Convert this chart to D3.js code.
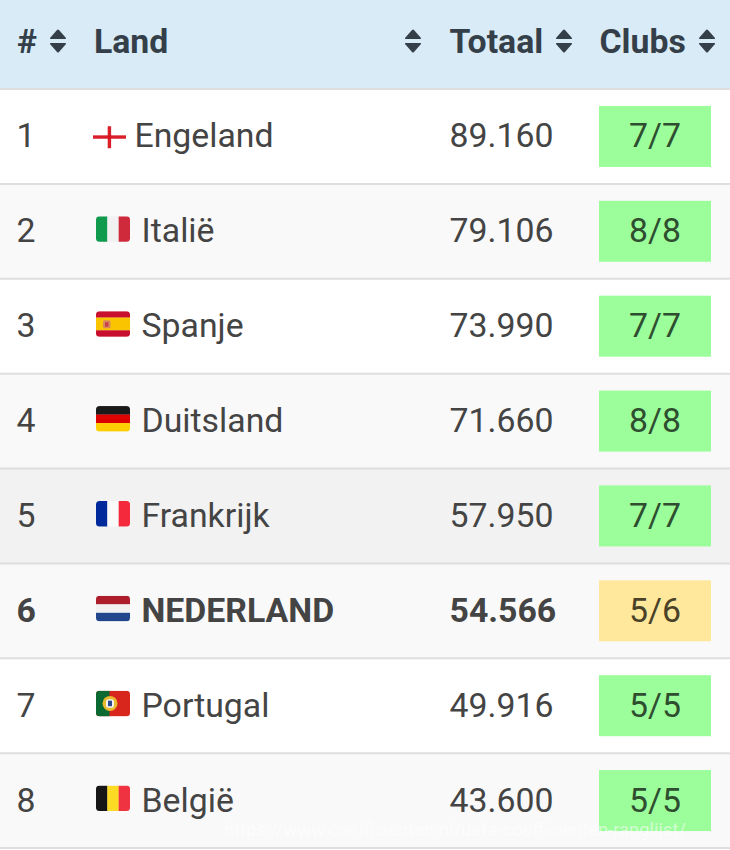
<!DOCTYPE html>
<html>
<head>
<meta charset="utf-8">
<script src="https://cdn.jsdelivr.net/npm/d3@7"></script>
<style>
  html, body { margin: 0; padding: 0; background: #fff; overflow: hidden; }
  svg { display: block; }
  text { font-family: Roboto, sans-serif; }
</style>
</head>
<body>
<svg></svg>
<script>
var width = 730;
var height = 850;

var columns = ["#", "Land", "Totaal", "Clubs"];
var ranks = [1, 2, 3, 4, 5, 6, 7, 8];
var countries = ["Engeland", "Italië", "Spanje", "Duitsland", "Frankrijk", "NEDERLAND", "Portugal", "België"];
var totals = ["89.160", "79.106", "73.990", "71.660", "57.950", "54.566", "49.916", "43.600"];
var clubs = ["7/7", "8/8", "7/7", "8/8", "7/7", "5/6", "5/5", "5/5"];
var flags = ["eng", "it", "es", "de", "fr", "nl", "pt", "be"];
var highlighted = "NEDERLAND";

var rowBg = ["#ffffff", "#f9f9f9", "#ffffff", "#f9f9f9", "#f2f2f2", "#f9f9f9", "#ffffff", "#f9f9f9"];

var textColor = "#444444";
var headColor = "#343f49";
var fontSize = 33.8;
var baseShift = 11;

var svg = d3.select("svg")
  .attr("width", width)
  .attr("height", height);

var y = d3.scaleBand()
  .domain(ranks)
  .range([89, 848]);

svg.append("rect")
  .attr("width", width)
  .attr("height", 89)
  .attr("fill", "#d9ebf6");

var rows = svg.selectAll("g.row")
  .data(ranks)
  .enter()
  .append("g")
    .attr("class", "row")
    .attr("transform", d => `translate(0,${y(d)})`);

rows.append("rect")
  .attr("width", width)
  .attr("height", y.bandwidth())
  .attr("fill", (d, i) => rowBg[i]);

svg.selectAll("line.sep")
  .data([0].concat(ranks))
  .enter()
  .append("line")
    .attr("class", "sep")
    .attr("x1", 0)
    .attr("x2", width)
    .attr("y1", d => d === 0 ? 89 : y(d) + y.bandwidth())
    .attr("y2", d => d === 0 ? 89 : y(d) + y.bandwidth())
    .attr("stroke", "#dedede")
    .attr("stroke-width", 2);

// header
var headX = [17, 94, 449.5, 599.5];
svg.selectAll("text.head")
  .data(columns)
  .enter()
  .append("text")
    .attr("class", "head")
    .attr("x", (d, i) => headX[i])
    .attr("y", 52.5)
    .attr("font-size", fontSize)
    .attr("font-weight", 700)
    .attr("fill", headColor)
    .text(d => d);

var sortX = [58, 413, 564, 707];
var sorters = svg.selectAll("g.sort")
  .data(sortX)
  .enter()
  .append("g")
    .attr("class", "sort")
    .attr("transform", d => `translate(${d},41)`)
    .attr("fill", headColor);
sorters.append("path").attr("d", "M-8,-3 L-1,-11 Q0,-12 1,-11 L8,-3 Q8.5,-2 7,-2 L-7,-2 Q-8.5,-2 -8,-3 Z");
sorters.append("path").attr("d", "M-8,3 L-1,11 Q0,12 1,11 L8,3 Q8.5,2 7,2 L-7,2 Q-8.5,2 -8,3 Z");

// cells
var isBold = i => countries[i] === highlighted;

rows.append("text")
  .attr("x", 16.5)
  .attr("y", y.bandwidth() / 2 + baseShift)
  .attr("font-size", fontSize)
  .attr("font-weight", (d, i) => isBold(i) ? 700 : 400)
  .attr("fill", textColor)
  .text(d => d);

rows.append("text")
  .attr("x", (d, i) => i === 0 ? 134.5 : 141.5)
  .attr("y", y.bandwidth() / 2 + baseShift)
  .attr("font-size", fontSize)
  .attr("font-weight", (d, i) => isBold(i) ? 700 : 400)
  .attr("fill", textColor)
  .text((d, i) => countries[i]);

rows.append("text")
  .attr("x", 449.5)
  .attr("y", y.bandwidth() / 2 + baseShift)
  .attr("font-size", fontSize)
  .attr("font-weight", (d, i) => isBold(i) ? 700 : 400)
  .attr("fill", textColor)
  .text((d, i) => totals[i]);

var clubColor = s => {
  var p = s.split("/");
  return p[0] === p[1] ? "#9bfe9b" : "#ffe79c";
};

rows.append("rect")
  .attr("x", 599)
  .attr("y", y.bandwidth() / 2 - 30.5)
  .attr("width", 112)
  .attr("height", 61)
  .attr("fill", (d, i) => clubColor(clubs[i]));

rows.append("text")
  .attr("x", 655)
  .attr("y", y.bandwidth() / 2 + baseShift)
  .attr("text-anchor", "middle")
  .attr("font-size", fontSize)
  .attr("fill", (d, i) => clubColor(clubs[i]) === "#9bfe9b" ? "#2f4d2f" : "#4a4228")
  .text((d, i) => clubs[i]);

// flags
var defs = svg.append("defs");
defs.append("clipPath").attr("id", "flagClip")
  .append("rect")
    .attr("width", 34)
    .attr("height", 25.5)
    .attr("rx", 3.5);

var vStripes = (g, cols) => {
  var x = d3.scaleBand().domain(d3.range(cols.length)).range([0, 34]);
  g.selectAll("rect").data(cols).enter().append("rect")
    .attr("x", (d, i) => x(i)).attr("width", x.bandwidth() + 0.2).attr("height", 26).attr("fill", d => d);
};
var hStripes = (g, cols, shares) => {
  var acc = 0;
  cols.forEach((c, i) => {
    var h = 25.5 * (shares ? shares[i] : 1 / cols.length);
    g.append("rect").attr("y", acc).attr("width", 34).attr("height", h + 0.2).attr("fill", c);
    acc += h;
  });
};

var drawFlag = {
  // england has no visible white edge on a white row, only the cross shows
  eng: g => {
    g.append("rect").attr("x", -3).attr("y", 13.9).attr("width", 33).attr("height", 3.4).attr("fill", "#d8121f").attr("opacity", 0.95);
    g.append("rect").attr("x", 11.7).attr("y", 4.8).attr("width", 3.4).attr("height", 22).attr("fill", "#d8121f").attr("opacity", 0.95);
  },
  it: g => vStripes(g, ["#0f9a4e", "#f1f1f1", "#cf2a3c"]),
  es: g => {
    hStripes(g, ["#c8102e", "#fbc400", "#c8102e"], [0.25, 0.5, 0.25]);
    g.append("rect").attr("x", 7).attr("y", 9).attr("width", 7.5).attr("height", 8).attr("rx", 1.5).attr("fill", "#d98a5a");
    g.append("rect").attr("x", 9).attr("y", 11).attr("width", 3.5).attr("height", 4.5).attr("fill", "#c8404a");
  },
  de: g => hStripes(g, ["#1a1a1a", "#dd0000", "#ffce00"]),
  fr: g => vStripes(g, ["#002a9c", "#fafafa", "#f42a3c"]),
  nl: g => hStripes(g, ["#ad1d2b", "#f1f1f1", "#21468b"]),
  pt: g => {
    g.append("rect").attr("width", 34).attr("height", 26).attr("fill", "#d8261c");
    g.append("rect").attr("width", 13.5).attr("height", 26).attr("fill", "#0a6a32");
    g.append("circle").attr("cx", 14).attr("cy", 12.7).attr("r", 7.5).attr("fill", "#e9b92e");
    g.append("rect").attr("x", 10).attr("y", 8.5).attr("width", 8).attr("height", 8.5).attr("rx", 2.5).attr("fill", "#f4f4f4");
    g.append("rect").attr("x", 12).attr("y", 10).attr("width", 4).attr("height", 5.5).attr("fill", "#2c4a8c");
  },
  be: g => vStripes(g, ["#161616", "#fdda24", "#ef3340"])
};

rows.append("g")
  .attr("transform", d => `translate(96,${y.bandwidth() / 2 - 15})`)
  .attr("clip-path", (d, i) => flags[i] === "eng" ? null : "url(#flagClip)")
  .each(function(d, i) { drawFlag[flags[i]](d3.select(this)); });

// faint url watermark across the bottom
svg.append("text")
  .attr("x", 686)
  .attr("y", 836)
  .attr("text-anchor", "end")
  .attr("font-size", 18.4)
  .attr("fill", "#ffffff")
  .attr("fill-opacity", 0.55)
  .text("https://www.coefficienten.nl/uefa-coefficienten-ranglijst/");
</script>
</body>
</html>
